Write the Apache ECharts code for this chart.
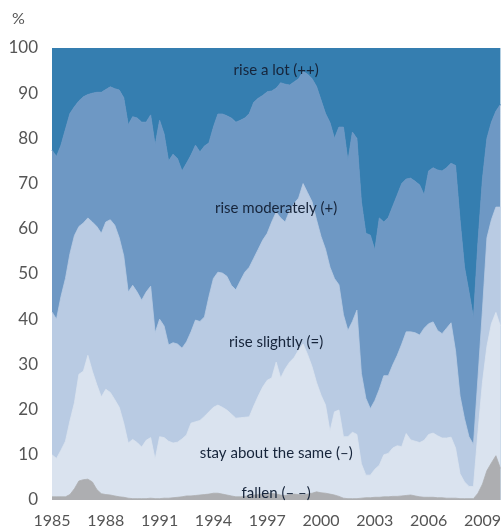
<!DOCTYPE html>
<html>
<head>
<meta charset="utf-8">
<script src="https://cdn.jsdelivr.net/npm/echarts@6/dist/echarts.min.js"></script>
<style>
  html, body { margin: 0; padding: 0; background: #fff; }
  #chart { width: 504px; height: 531px; }
</style>
</head>
<body>
<div id="chart"></div>
<script>
// quarterly points, share of answers (cumulative from the bottom, %)
const years = [
  1985, 1985.25, 1985.5, 1985.75, 1986, 1986.25, 1986.5, 1986.75, 1987, 1987.25, 1987.5, 1987.75,
  1988, 1988.25, 1988.5, 1988.75, 1989, 1989.25, 1989.5, 1989.75, 1990, 1990.25, 1990.5, 1990.75,
  1991, 1991.25, 1991.5, 1991.75, 1992, 1992.25, 1992.5, 1992.75, 1993, 1993.25, 1993.5, 1993.75,
  1994, 1994.25, 1994.5, 1994.75, 1995, 1995.25, 1995.5, 1995.75, 1996, 1996.25, 1996.5, 1996.75,
  1997, 1997.25, 1997.5, 1997.75, 1998, 1998.25, 1998.5, 1998.75, 1999, 1999.25, 1999.5, 1999.75,
  2000, 2000.25, 2000.5, 2000.75, 2001, 2001.25, 2001.5, 2001.75, 2002, 2002.25, 2002.5, 2002.75,
  2003, 2003.25, 2003.5, 2003.75, 2004, 2004.25, 2004.5, 2004.75, 2005, 2005.25, 2005.5, 2005.75,
  2006, 2006.25, 2006.5, 2006.75, 2007, 2007.25, 2007.5, 2007.75, 2008, 2008.25, 2008.5, 2008.75,
  2009, 2009.25, 2009.5, 2009.75, 2010
];

// fallen (– –)
const fallen = [
  0.7, 0.7, 0.7, 0.7, 1.2, 2.5, 4.2, 4.5, 4.6, 4.0, 2.3, 1.4,
  1.2, 1.1, 0.9, 0.7, 0.6, 0.4, 0.3, 0.3, 0.3, 0.3, 0.4, 0.3,
  0.3, 0.4, 0.4, 0.5, 0.6, 0.7, 0.9, 0.9, 1.0, 1.1, 1.2, 1.3,
  1.5, 1.5, 1.3, 1.1, 0.9, 0.7, 0.7, 0.8, 1.0, 1.1, 1.2, 1.3,
  1.4, 1.5, 1.3, 1.1, 1.0, 1.2, 1.3, 1.2, 1.1, 1.3, 1.5, 1.8,
  1.6, 1.5, 1.3, 1.1, 0.8, 0.4, 0.3, 0.3, 0.3, 0.4, 0.5, 0.5,
  0.6, 0.6, 0.7, 0.7, 0.8, 0.8, 0.9, 1.0, 1.1, 0.9, 0.7, 0.6,
  0.6, 0.6, 0.5, 0.5, 0.4, 0.4, 0.4, 0.3, 0.3, 0.3, 0.3, 1.5,
  3.5, 6.5, 8.2, 9.8, 7.0
];

// up to "stay about the same (–)"
const upToSame = [
  10, 9.2, 11, 13, 17.5, 21.5, 27.8, 28.5, 32, 28.5, 25.5, 22.8,
  24.5, 23.8, 22.2, 20.5, 17, 12.6, 13.4, 12.7, 11.7, 13.2, 13.8, 9,
  14, 13.8, 13, 12.6, 12.8, 13.5, 14.4, 17, 17.3, 17.6, 18.5, 19.5,
  20.5, 21, 20.5, 19.9, 19, 18.1, 18.2, 18.3, 18.4, 20.8, 23, 25,
  26.5, 27, 30.5, 27, 29, 30.5, 31.5, 33.2, 34.5, 32.2, 29.5, 26,
  23.2, 21, 15.2, 19.5, 19.9, 14, 14, 15, 14.5, 8, 5.5, 5.5,
  6.8, 7.7, 10, 10.3, 11.5, 12, 11.8, 14.7, 13.3, 13, 12.7, 13.2,
  14.5, 14.8, 14.2, 13.7, 13.7, 13.9, 11.5, 5.8, 4, 3, 3, 15,
  26, 34, 39, 41.5, 38.5
];

// up to "rise slightly (=)"
const upToSlight = [
  41.6, 40, 45, 49, 54.5, 58.5, 60.5, 61.3, 62.4, 61.5, 60.5, 59,
  61.5, 62, 60.8, 58, 54, 46, 47.5, 46, 44.2, 46, 47.3, 37,
  40, 38.5, 34.3, 34.8, 34.5, 33.6, 35, 37.2, 39.8, 39.5, 40.5, 45,
  49, 50.4, 50.2, 49.5, 47.5, 46.5, 48.5, 50.4, 51.5, 53.5, 55.5, 57.5,
  59, 61.5, 63.7, 62.4, 61.5, 64, 65.6, 66.8, 70, 68, 66, 62,
  58.3, 55.5, 51.5, 49, 47.6, 41, 37.5, 39.5, 42, 28, 22.5, 20.2,
  22, 24.5, 27.5, 27.5, 29.9, 32, 34.5, 37.2, 37.2, 37, 36.5, 38,
  39, 39.4, 37.5, 36.8, 38, 39.2, 33, 23, 18, 14, 12.3, 27,
  42, 58, 62, 64.8, 64.8
];

// up to "rise moderately (+)"; the rest up to 100 is "rise a lot (++)"
const upToModerate = [
  77.4, 76, 78.5, 82, 85.5, 87, 88.3, 89.2, 89.7, 90, 90.2, 90.2,
  90.8, 91.4, 91, 90.7, 89, 83, 84.8, 84.5, 83.6, 83.6, 85.2, 78.5,
  84, 81, 75, 76.5, 75.5, 72.8, 74.5, 76.3, 78.5, 77, 78.3, 79,
  82.5, 85.4, 85.4, 85, 84.5, 83.6, 84, 84.5, 85.5, 88, 88.9, 89.5,
  90.3, 90.5, 91.1, 92.3, 92, 91.8, 92.5, 93.2, 94.8, 94.2, 93.2, 91.5,
  88.5, 85.5, 83.5, 80, 82.5, 82.5, 75, 81.4, 80, 66, 59, 58.6,
  55.3, 62.4, 61.5, 62.5, 65, 67.5, 70, 71, 71.2, 70.5, 69.7, 67.5,
  72.8, 73.5, 73, 72.8, 73.5, 74.5, 74, 62, 51.5, 46, 40.3, 57,
  71, 80, 83.6, 86, 87.5
];

const labels = [
  { text: 'rise a lot (++)', at: [1997.5, 95.1] },
  { text: 'rise moderately (+)', at: [1997.5, 64.6] },
  { text: 'rise slightly (=)', at: [1997.5, 35] },
  { text: 'stay about the same (–)', at: [1997.5, 10.4] },
  { text: 'fallen (– –)', at: [1997.5, 1.6] }
];

const tickFont = "'Lato', sans-serif";

function pairs(vals) {
  return years.map((y, i) => [y, vals[i]]);
}

function layer(name, vals, color, origin, z) {
  return {
    name: name,
    type: 'line',
    data: pairs(vals),
    symbol: 'none',
    z: z,
    lineStyle: { width: 0.8, color: color },
    areaStyle: { color: color, opacity: 1, origin: origin },
    silent: true
  };
}

const chart = echarts.init(document.getElementById('chart'));
chart.setOption({
  animation: false,
  backgroundColor: '#fff',
  grid: { left: 52, right: 0, top: 48, bottom: 31 },
  xAxis: {
    type: 'value',
    min: 1985,
    max: 2010,
    interval: 3,
    axisLine: { show: false },
    axisTick: { show: false },
    splitLine: { show: false },
    axisLabel: {
      showMaxLabel: false,
      margin: 13,
      color: '#555',
      fontSize: 16,
      fontFamily: tickFont,
      formatter: v => String(v)
    }
  },
  yAxis: {
    type: 'value',
    min: 0,
    max: 100,
    interval: 10,
    axisLine: { show: false },
    axisTick: { show: false },
    splitLine: { show: false },
    axisLabel: { margin: 14, color: '#555', fontSize: 17, fontFamily: tickFont }
  },
  series: [
    layer('rise a lot (++)', upToModerate, '#357eb0', 'end', 1),
    layer('rise moderately (+)', upToModerate, '#6e98c4', 'start', 2),
    layer('rise slightly (=)', upToSlight, '#b9cbe3', 'start', 3),
    layer('stay about the same (–)', upToSame, '#dae3ef', 'start', 4),
    layer('fallen (– –)', fallen, '#adaeb1', 'start', 5)
  ]
});

const texts = labels.map(l => {
  const p = chart.convertToPixel({ gridIndex: 0 }, l.at);
  return {
    type: 'text',
    x: p[0],
    y: p[1],
    z: 100,
    style: {
      text: l.text,
      fill: '#16243a',
      font: "15px 'Lato', sans-serif",
      align: 'center',
      verticalAlign: 'middle'
    }
  };
});
texts.push({
  type: 'text',
  x: 12,
  y: 11,
  style: { text: '%', fill: '#555', font: "16px " + tickFont }
});
chart.setOption({ graphic: texts });
</script>
</body>
</html>
